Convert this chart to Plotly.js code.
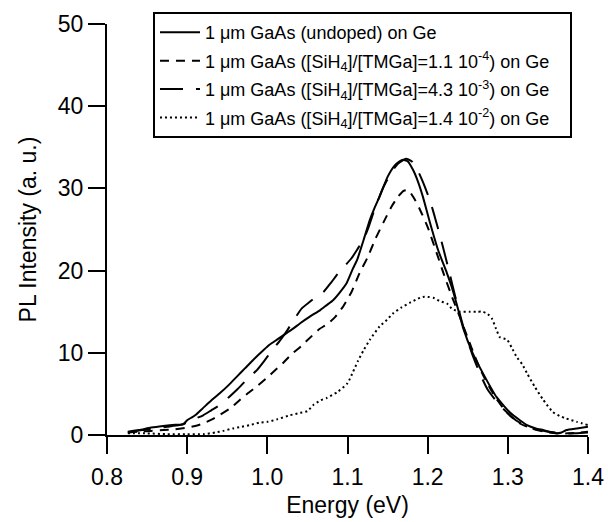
<!DOCTYPE html>
<html>
<head>
<meta charset="utf-8">
<script src="https://cdn.plot.ly/plotly-3.0.1.min.js"></script>
<style>
html,body{margin:0;padding:0;background:#fff;}
#chart{width:608px;height:522px;}
</style>
</head>
<body>
<div id="chart"></div>
<script>
// Series names
const names = [
  "1 μm GaAs (undoped) on Ge",
  "1 μm GaAs ([SiH<sub>4</sub>]/[TMGa]=1.1 10<sup>-4</sup>) on Ge",
  "1 μm GaAs ([SiH<sub>4</sub>]/[TMGa]=4.3 10<sup>-3</sup>) on Ge",
  "1 μm GaAs ([SiH<sub>4</sub>]/[TMGa]=1.4 10<sup>-2</sup>) on Ge"
];

// Undoped (solid)
const xUndoped = [0.826,0.84,0.855,0.87,0.885,0.895,0.9,0.905,0.91,0.92,0.93,0.941,0.952,0.962,0.972,0.982,0.995,1.003,1.012,1.024,1.033,1.041,1.053,1.066,1.074,1.082,1.09,1.099,1.107,1.112,1.12,1.128,1.134,1.14,1.15,1.159,1.165,1.169,1.175,1.182,1.188,1.194,1.203,1.213,1.224,1.23,1.236,1.244,1.256,1.269,1.286,1.303,1.315,1.324,1.335,1.344,1.352,1.361,1.367,1.373,1.386,1.4];
const yUndoped = [0.4,0.6,0.9,1.1,1.25,1.3,1.8,2.1,2.4,3.3,4.2,5.1,6.1,7.1,8.1,9.1,10.3,11.0,11.6,12.4,13.0,13.6,14.4,15.2,15.8,16.4,17.3,18.5,20.3,21.3,23.7,26.2,27.7,29.0,31.4,32.8,33.3,33.5,33.3,32.2,30.8,29.0,25.8,22.5,19.7,18.0,16.0,13.1,10.0,7.5,4.6,2.7,1.8,1.2,0.8,0.6,0.4,0.2,0.3,0.6,0.8,1.0];

// [SiH4]/[TMGa]=1.1e-4 (short dash)
const xSi1 = [0.826,0.84,0.855,0.87,0.885,0.9,0.91,0.92,0.931,0.94,0.953,0.965,0.976,0.988,1.0,1.01,1.02,1.03,1.042,1.055,1.065,1.075,1.085,1.095,1.105,1.115,1.125,1.135,1.145,1.155,1.163,1.17,1.176,1.183,1.19,1.2,1.21,1.22,1.23,1.24,1.25,1.26,1.27,1.285,1.3,1.315,1.33,1.345,1.36,1.375,1.39,1.4];
const ySi1 = [0.3,0.4,0.5,0.6,0.7,0.9,1.1,1.4,1.9,2.4,3.2,4.2,5.1,6.0,7.0,7.9,8.8,9.8,10.8,12.0,12.9,13.5,14.4,15.7,17.4,19.7,21.6,23.9,25.9,27.8,29.0,29.7,29.8,28.8,27.5,25.3,22.5,19.6,16.9,14.4,11.8,9.3,7.1,4.5,2.6,1.4,0.8,0.4,0.2,0.2,0.3,0.4];

// [SiH4]/[TMGa]=4.3e-3 (long dash)
const xSi2 = [0.826,0.844,0.86,0.875,0.89,0.897,0.903,0.91,0.92,0.93,0.94,0.952,0.963,0.975,0.987,0.996,1.006,1.015,1.024,1.033,1.043,1.053,1.063,1.07,1.08,1.087,1.096,1.105,1.113,1.12,1.126,1.135,1.145,1.155,1.163,1.173,1.18,1.187,1.194,1.203,1.211,1.219,1.227,1.235,1.245,1.255,1.265,1.275,1.29,1.31,1.33,1.35,1.37,1.385,1.4];
const ySi2 = [0.3,0.6,0.8,1.0,1.2,1.4,1.8,2.0,2.4,3.0,3.6,4.6,5.6,6.8,7.9,9.0,10.3,11.4,12.6,14.0,15.4,16.2,17.0,17.4,18.6,19.5,20.5,21.5,22.7,23.8,25.2,27.8,30.2,32.0,33.0,33.6,33.3,32.3,30.8,28.5,25.8,22.9,19.8,16.6,13.0,10.0,7.5,5.5,3.6,1.8,0.8,0.4,0.2,0.2,0.3];

// [SiH4]/[TMGa]=1.4e-2 (dotted)
const xSi3 = [0.826,0.85,0.875,0.9,0.92,0.935,0.945,0.957,0.968,0.978,0.99,1.0,1.012,1.028,1.041,1.05,1.058,1.066,1.074,1.087,1.1,1.107,1.113,1.12,1.128,1.14,1.149,1.157,1.167,1.178,1.186,1.194,1.2,1.207,1.215,1.224,1.231,1.24,1.253,1.262,1.269,1.275,1.28,1.285,1.29,1.299,1.305,1.311,1.318,1.324,1.334,1.344,1.356,1.365,1.373,1.386,1.4];
const ySi3 = [0.2,0.2,0.1,0.1,0.1,0.3,0.5,0.8,1.0,1.2,1.5,1.6,1.9,2.4,2.7,2.9,3.7,4.2,4.5,5.2,6.3,7.7,9.0,10.3,11.6,13.2,14.0,14.8,15.5,16.1,16.5,16.8,16.8,16.7,16.3,16.0,15.3,15.0,15.0,15.0,15.0,14.7,14.2,13.0,11.9,11.6,10.6,9.5,8.6,7.5,5.8,4.3,2.8,2.3,2.0,1.6,1.2];

const xTicks = [0.8,0.9,1.0,1.1,1.2,1.3,1.4];
const xTickText = ["0.8","0.9","1.0","1.1","1.2","1.3","1.4"];
const yTicks = [0,10,20,30,40,50];

const FONT = "Liberation Sans, Arial, Helvetica, sans-serif";
const PADR = "\u00A0\u00A0\u00A0";

const traces = [
  {x:xUndoped, y:yUndoped, name:names[0]+PADR, legendgroup:"a", mode:"lines",
   line:{color:"#000", width:2, dash:"solid", shape:"spline", smoothing:0.5}},
  {x:xSi1, y:ySi1, name:names[1]+PADR, legendgroup:"b", mode:"lines",
   line:{color:"#000", width:2, dash:"9px,7px", shape:"spline", smoothing:0.5}},
  {x:xSi2, y:ySi2, name:names[2]+PADR, legendgroup:"c", mode:"lines",
   line:{color:"#000", width:2, dash:"23px,13px", shape:"spline", smoothing:0.5}},
  {x:xSi3, y:ySi3, name:names[3]+PADR, legendgroup:"d", mode:"lines",
   line:{color:"#000", width:2, dash:"2px,3px", shape:"spline", smoothing:0.5}}
];

const layout = {
  width:608, height:522,
  margin:{l:107, r:20, t:24, b:87, pad:0},
  paper_bgcolor:"#fff", plot_bgcolor:"#fff",
  font:{family:FONT, color:"#000", size:23},
  showlegend:true,
  legend:{
    x:0.0956, xanchor:"left", y:1.029, yanchor:"top",
    bgcolor:"#fff", bordercolor:"#000", borderwidth:2,
    font:{family:FONT, size:18, color:"#000"},
    itemwidth:40,
    traceorder:"grouped", tracegroupgap:2
  },
  xaxis:{
    range:[0.8,1.4], tickvals:xTicks, ticktext:xTickText,
    showgrid:false, zeroline:false, showline:true, linecolor:"#000", linewidth:2,
    ticks:"outside", ticklen:17, tickwidth:2, tickcolor:"#000",
    ticklabelstandoff:3,
    tickfont:{family:FONT, size:23, color:"#000"},
    title:{text:"Energy (eV)", font:{family:FONT, size:23, color:"#000"}, standoff:8}
  },
  yaxis:{
    range:[0,50], tickvals:yTicks,
    showgrid:false, zeroline:false, showline:true, linecolor:"#000", linewidth:2,
    ticks:"outside", ticklen:17, tickwidth:2, tickcolor:"#000",
    tickfont:{family:FONT, size:23, color:"#000"},
    title:{text:"PL Intensity (a. u.)", font:{family:FONT, size:23, color:"#000"}, standoff:15}
  }
};

Plotly.newPlot("chart", traces, layout, {displayModeBar:false, staticPlot:true});
</script>
</body>
</html>
